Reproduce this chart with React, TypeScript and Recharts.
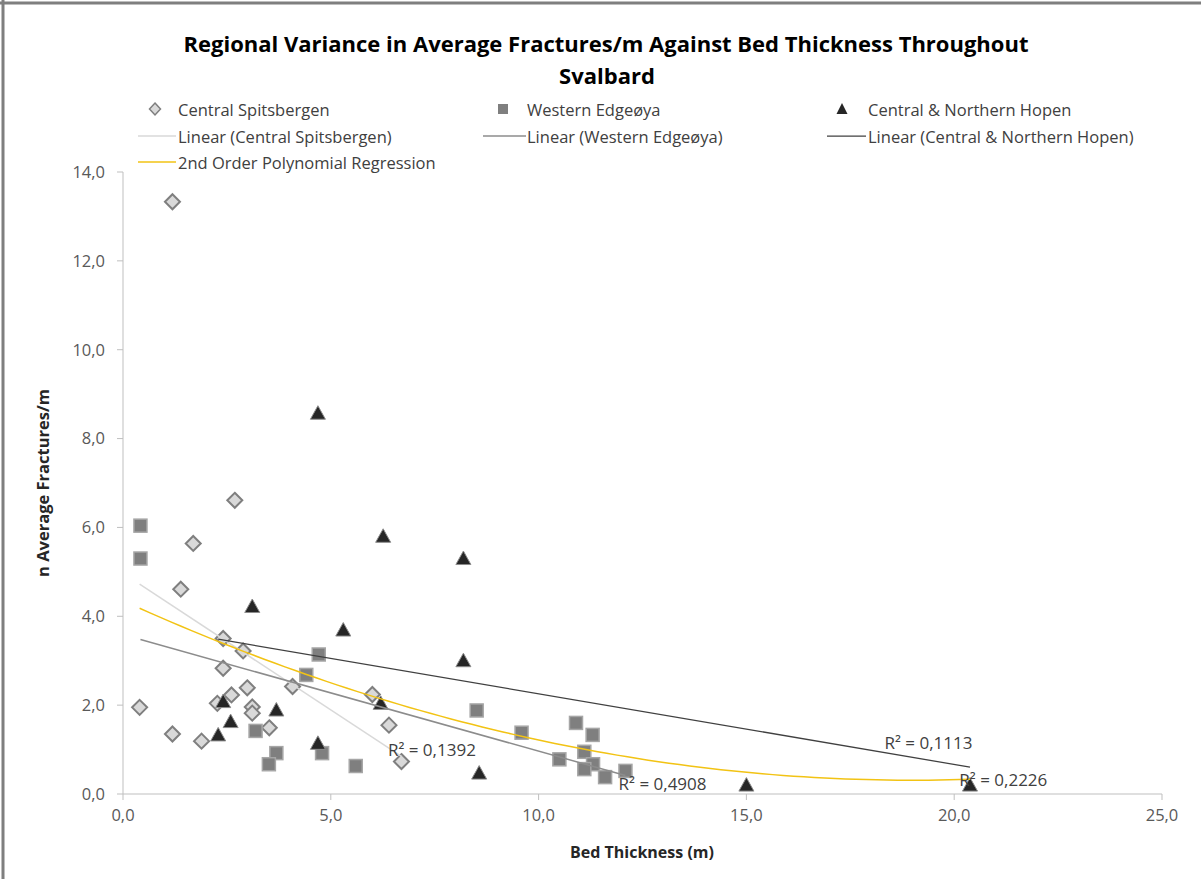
import React from 'react';
import { ScatterChart, Scatter, XAxis, YAxis, ReferenceDot } from 'recharts';

// ---- Data ----
const spitsbergenX = [1.19, 2.69, 1.69, 1.39, 2.41, 2.89, 2.41, 4.08, 2.99, 2.61, 2.27, 6.0, 0.4, 3.11, 3.11, 6.4, 3.52, 1.19, 1.89, 6.7];
const spitsbergenY = [13.33, 6.61, 5.64, 4.61, 3.5, 3.22, 2.83, 2.42, 2.39, 2.23, 2.04, 2.24, 1.95, 1.96, 1.82, 1.55, 1.49, 1.35, 1.19, 0.73];

const edgeoyaX = [0.42, 0.42, 4.71, 4.41, 8.51, 3.19, 3.69, 4.79, 3.51, 5.6, 9.59, 10.9, 11.3, 11.1, 10.5, 11.31, 11.1, 11.6, 12.09];
const edgeoyaY = [6.04, 5.3, 3.14, 2.68, 1.88, 1.42, 0.92, 0.92, 0.67, 0.63, 1.38, 1.6, 1.33, 0.95, 0.78, 0.67, 0.56, 0.38, 0.52];

const hopenX = [4.69, 6.26, 8.19, 3.11, 5.3, 8.19, 2.41, 6.2, 3.69, 2.59, 2.29, 4.69, 8.57, 15.0, 20.38];
const hopenY = [8.57, 5.8, 5.3, 4.22, 3.69, 3.0, 2.08, 2.04, 1.89, 1.63, 1.33, 1.14, 0.47, 0.2, 0.2];

const xTicks = [0, 5, 10, 15, 20, 25];
const yTicks = [0, 2, 4, 6, 8, 10, 12, 14];

const r2Labels = ['R² = 0,1392', 'R² = 0,4908', 'R² = 0,1113', 'R² = 0,2226'];
// label anchors (data coords: left edge of text, vertical centre)
const r2AnchorX = [6.35, 11.9, 18.3, 20.1];
const r2AnchorY = [0.99, 0.23, 1.14, 0.31];

const titleLines = ['Regional Variance in Average Fractures/m Against Bed Thickness Throughout', 'Svalbard'];
const seriesNames = ['Central Spitsbergen', 'Western Edgeøya', 'Central & Northern Hopen'];
const trendNames = ['Linear (Central Spitsbergen)', 'Linear (Western Edgeøya)', 'Linear (Central & Northern Hopen)', '2nd Order Polynomial Regression'];

// ---- helpers ----
const toPts = (xs: number[], ys: number[]) => xs.map((x, i) => ({ x, y: ys[i] }));

function linFit(xs: number[], ys: number[]) {
  const n = xs.length;
  const mx = xs.reduce((a, b) => a + b, 0) / n;
  const my = ys.reduce((a, b) => a + b, 0) / n;
  let sxy = 0, sxx = 0;
  for (let i = 0; i < n; i++) { sxy += (xs[i] - mx) * (ys[i] - my); sxx += (xs[i] - mx) ** 2; }
  const b = sxy / sxx;
  const a = my - b * mx;
  const x0 = Math.min(...xs), x1 = Math.max(...xs);
  return [{ x: x0, y: a + b * x0 }, { x: x1, y: a + b * x1 }];
}

function polyFit2(xs: number[], ys: number[]) {
  const S = (p: number) => xs.reduce((s, x) => s + x ** p, 0);
  const T = (p: number) => xs.reduce((s, x, i) => s + ys[i] * x ** p, 0);
  const M = [
    [S(0), S(1), S(2), T(0)],
    [S(1), S(2), S(3), T(1)],
    [S(2), S(3), S(4), T(2)],
  ];
  for (let i = 0; i < 3; i++) {
    for (let k = i + 1; k < 3; k++) {
      const f = M[k][i] / M[i][i];
      for (let j = i; j < 4; j++) M[k][j] -= f * M[i][j];
    }
  }
  const c = [0, 0, 0];
  for (let i = 2; i >= 0; i--) {
    let s = M[i][3];
    for (let j = i + 1; j < 3; j++) s -= M[i][j] * c[j];
    c[i] = s / M[i][i];
  }
  const x0 = Math.min(...xs), x1 = Math.max(...xs);
  const pts = [] as { x: number; y: number }[];
  const steps = 80;
  for (let k = 0; k <= steps; k++) {
    const x = x0 + ((x1 - x0) * k) / steps;
    pts.push({ x, y: c[0] + c[1] * x + c[2] * x * x });
  }
  return pts;
}

const spPts = toPts(spitsbergenX, spitsbergenY);
const edPts = toPts(edgeoyaX, edgeoyaY);
const hoPts = toPts(hopenX, hopenY);
const spLine = linFit(spitsbergenX, spitsbergenY);
const edLine = linFit(edgeoyaX, edgeoyaY);
const hoLine = linFit(hopenX, hopenY);
const polyPts = polyFit2([...spitsbergenX, ...edgeoyaX, ...hopenX], [...spitsbergenY, ...edgeoyaY, ...hopenY]);

// ---- shapes ----
const Diamond = (p: any) => {
  const { cx, cy } = p; const s = 7.5;
  return <path d={`M${cx},${cy - s}L${cx + s},${cy}L${cx},${cy + s}L${cx - s},${cy}Z`} fill="#d9d9d9" stroke="#7f7f7f" strokeWidth={2} />;
};
const Square = (p: any) => {
  const { cx, cy } = p; const s = 6.5;
  return <rect x={cx - s} y={cy - s} width={2 * s} height={2 * s} fill="#7f7f7f" stroke="#a6a6a6" strokeWidth={1.5} />;
};
const Triangle = (p: any) => {
  const { cx, cy } = p;
  return <path d={`M${cx},${cy - 7.5}L${cx + 7.5},${cy + 6}L${cx - 7.5},${cy + 6}Z`} fill="#262626" stroke="#8c8c8c" strokeWidth={1} />;
};
const NoShape = () => <g />;

const fmt = (v: number) => v.toFixed(1).replace('.', ',');
const FONT = '"Open Sans", "DejaVu Sans", sans-serif';
const LEG = 16.5;

export default function App() {
  return (
    <div style={{ position: 'absolute', left: 0, top: 0, width: 1201, height: 879, background: '#fff', fontFamily: FONT, overflow: 'hidden' }}>
      <ScatterChart width={1201} height={879} margin={{ top: 172, right: 39, bottom: 55, left: 63 }}>
        <XAxis type="number" dataKey="x" domain={[0, 25]} ticks={xTicks} tickFormatter={fmt}
          stroke="#bfbfbf" tickSize={6} tickMargin={9} height={30}
          tick={{ fill: '#595959', fontSize: 16.5, fontFamily: FONT }} allowDataOverflow />
        <YAxis type="number" dataKey="y" domain={[0, 14]} ticks={yTicks} tickFormatter={fmt}
          stroke="#bfbfbf" tickSize={6} tickMargin={12} width={60}
          tick={{ fill: '#595959', fontSize: 16.5, fontFamily: FONT }} allowDataOverflow />
        <Scatter name={seriesNames[0]} data={spPts} shape={Diamond} isAnimationActive={false} />
        <Scatter name={seriesNames[1]} data={edPts} shape={Square} isAnimationActive={false} />
        <Scatter name={seriesNames[2]} data={hoPts} shape={Triangle} isAnimationActive={false} />
        <Scatter name={trendNames[0]} data={spLine} shape={NoShape} line={{ stroke: '#d9d9d9', strokeWidth: 1.5 }} isAnimationActive={false} />
        <Scatter name={trendNames[1]} data={edLine} shape={NoShape} line={{ stroke: '#8c8c8c', strokeWidth: 1.5 }} isAnimationActive={false} />
        <Scatter name={trendNames[2]} data={hoLine} shape={NoShape} line={{ stroke: '#404040', strokeWidth: 1.25 }} isAnimationActive={false} />
        <Scatter name={trendNames[3]} data={polyPts} shape={NoShape} line={{ stroke: '#f2c314', strokeWidth: 1.5 }} isAnimationActive={false} />
        {r2Labels.map((t, i) => (
          <ReferenceDot key={t} x={r2AnchorX[i]} y={r2AnchorY[i]} r={1} fill="none" stroke="none" ifOverflow="visible"
            label={{ value: t, position: 'right', offset: 0, fill: '#404040', fontSize: 17, fontFamily: FONT }} />
        ))}
      </ScatterChart>

      <svg width={1201} height={879} style={{ position: 'absolute', left: 0, top: 0, pointerEvents: 'none' }}>
        <line x1={3} y1={0} x2={3} y2={879} stroke="#7f7f7f" strokeWidth={3} />
        <line x1={0} y1={3} x2={1201} y2={3} stroke="#7f7f7f" strokeWidth={3} />
        <text x={606} y={43} textAnchor="middle" dominantBaseline="central" fontSize={22} fontWeight="bold" fill="#000" fontFamily={FONT}>{titleLines[0]}</text>
        <text x={607} y={75} textAnchor="middle" dominantBaseline="central" fontSize={22} fontWeight="bold" fill="#000" fontFamily={FONT}>{titleLines[1]}</text>

        {/* legend row 1 */}
        <path d="M155,103L160.5,109L155,115L149.5,109Z" fill="#d9d9d9" stroke="#7f7f7f" strokeWidth={1.5} />
        <text x={178} y={109} dominantBaseline="central" fontSize={LEG} fill="#404040" fontFamily={FONT}>{seriesNames[0]}</text>
        <rect x={498} y={104} width={10} height={10} fill="#7f7f7f" />
        <text x={527} y={109} dominantBaseline="central" fontSize={LEG} fill="#404040" fontFamily={FONT}>{seriesNames[1]}</text>
        <path d="M842,103L847.5,114L836.5,114Z" fill="#262626" />
        <text x={868} y={109} dominantBaseline="central" fontSize={LEG} fill="#404040" fontFamily={FONT}>{seriesNames[2]}</text>
        {/* legend row 2 */}
        <line x1={138} y1={136} x2={176} y2={136} stroke="#d9d9d9" strokeWidth={1.5} />
        <text x={178} y={136} dominantBaseline="central" fontSize={LEG} fill="#404040" fontFamily={FONT}>{trendNames[0]}</text>
        <line x1={483} y1={136} x2={526} y2={136} stroke="#8c8c8c" strokeWidth={1.5} />
        <text x={527} y={136} dominantBaseline="central" fontSize={LEG} fill="#404040" fontFamily={FONT}>{trendNames[1]}</text>
        <line x1={827} y1={136} x2={866} y2={136} stroke="#404040" strokeWidth={1.25} />
        <text x={868} y={136} dominantBaseline="central" fontSize={LEG} fill="#404040" fontFamily={FONT}>{trendNames[2]}</text>
        {/* legend row 3 */}
        <line x1={138} y1={162} x2={176} y2={162} stroke="#f2c314" strokeWidth={1.5} />
        <text x={178} y={162} dominantBaseline="central" fontSize={LEG} fill="#404040" fontFamily={FONT}>{trendNames[3]}</text>

        {/* axis titles */}
        <text x={642} y={852} textAnchor="middle" dominantBaseline="central" fontSize={16} fontWeight="bold" fill="#262626" fontFamily={FONT}>Bed Thickness (m)</text>
        <text x={0} y={0} transform="translate(42,483) rotate(-90)" textAnchor="middle" dominantBaseline="central" fontSize={16.5} fontWeight="bold" fill="#262626" fontFamily={FONT}>n Average Fractures/m</text>
      </svg>
    </div>
  );
}
